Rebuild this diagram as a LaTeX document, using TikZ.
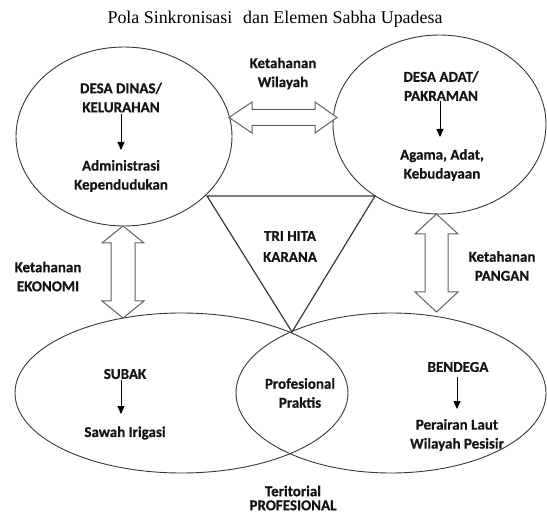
\documentclass[tikz,border=0pt]{standalone}
\usepackage{fontspec}
\setmainfont{Carlito}[BoldFeatures={FakeBold=0.6}]
\newfontfamily\titlefont{Liberation Serif}
\usetikzlibrary{arrows.meta,shapes.geometric}
\begin{document}
\begin{tikzpicture}[x=1pt,y=-1pt,
  outline/.style={draw=black!78, line width=0.9pt},
  region/.style={ellipse, outline, inner sep=0pt},
  lbl/.style={font=\bfseries\fontsize{15}{19}\selectfont, align=center, inner sep=0pt, text=black!92},
  blockarrow/.style={draw=black!62, line width=1pt, fill=white, line join=miter},
  smallarr/.style={draw=black, line width=0.8pt, -{Triangle[width=7pt,length=8pt]}}]
\useasboundingbox (0,0) rectangle (547,516);

% title
\node[font=\titlefont\fontsize{17.9}{20}\selectfont, inner sep=0pt] (title) at (275,19)
  {Pola Sinkronisasi\hspace{0.6em}dan Elemen Sabha Upadesa};

% big regions
\node[region, minimum width=216pt, minimum height=179pt] (dinas) at (124,136.5) {};
\node[region, minimum width=213pt, minimum height=179pt] (adat) at (439.5,124.5) {};
\node[region, minimum width=333pt, minimum height=160pt] (subak) at (181.5,393) {};
\node[region, minimum width=310pt, minimum height=160pt] (bendega) at (391,393) {};

% triangle
\coordinate (t1) at (207,196);
\coordinate (t2) at (375,196);
\coordinate (t3) at (292,332);
\draw[outline, line width=1.2pt, line join=miter] (t1) -- (t2) -- (t3) -- cycle;

% block double arrows
\coordinate (hA) at (229,117.5);
\draw[blockarrow] (hA) -- ++(23,-15.5) -- ++(0,7.5) -- ++(63,0) -- ++(0,-7.5) -- ++(22,15.5)
  -- ++(-22,15.5) -- ++(0,-7.5) -- ++(-63,0) -- ++(0,7.5) -- cycle;
\coordinate (vL) at (123,226);
\draw[blockarrow] (vL) -- ++(21,17) -- ++(-9,0) -- ++(0,58) -- ++(9,0) -- ++(-21,17)
  -- ++(-21,-17) -- ++(9,0) -- ++(0,-58) -- ++(-9,0) -- cycle;
\coordinate (vR) at (436.5,214);
\draw[blockarrow] (vR) -- ++(21.5,20) -- ++(-10,0) -- ++(0,58) -- ++(10,0) -- ++(-21.5,20)
  -- ++(-21.5,-20) -- ++(10,0) -- ++(0,-58) -- ++(-10,0) -- cycle;

% labels
\node[lbl] (wil) at (283,73.5) {Ketahanan\\Wilayah};
\node[lbl] (dinasT) at (121,97.5) {DESA DINAS/\\KELURAHAN};
\node[lbl] (adminT) at (121,176) {Administrasi\\Kependudukan};
\node[lbl] (adatT) at (441,86) {DESA ADAT/\\PAKRAMAN};
\node[lbl] (agamaT) at (442,165) {Agama, Adat,\\Kebudayaan};
\node[lbl] (triT) at (290,246.5) {TRI HITA\\[2pt]KARANA};
\node[lbl] (ekoT) at (48,276.5) {Ketahanan\\EKONOMI};
\node[lbl] (panganT) at (502,266) {Ketahanan\\PANGAN};
\node[lbl] (subakT) at (125,374) {SUBAK};
\node[lbl] (sawahT) at (125,433) {Sawah Irigasi};
\node[lbl] (profT) at (300,393) {Profesional\\Praktis};
\node[lbl] (bendegaT) at (458,367) {BENDEGA};
\node[lbl] (perairanT) at (457,435) {Perairan Laut\\Wilayah Pesisir};
\node[lbl] (teritT) at (293,498) {Teritorial\\[-5pt]PROFESIONAL};

% small arrows
\coordinate (d1) at (121,114); \coordinate (d2) at (121,150);
\draw[smallarr] (d1) -- (d2);
\coordinate (p1) at (440,101); \coordinate (p2) at (440,137);
\draw[smallarr] (p1) -- (p2);
\coordinate (s1) at (121,380); \coordinate (s2) at (121,414);
\draw[smallarr] (s1) -- (s2);
\coordinate (b1) at (457,377); \coordinate (b2) at (457,409);
\draw[smallarr] (b1) -- (b2);
\end{tikzpicture}
\end{document}
